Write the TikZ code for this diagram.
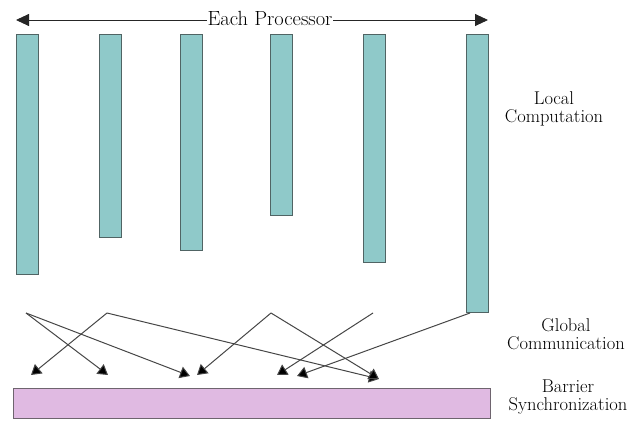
\documentclass[tikz,border=0pt]{standalone}
\usetikzlibrary{arrows.meta,calc}
\definecolor{barfill}{RGB}{143,201,201}
\definecolor{barline}{RGB}{80,100,100}
\definecolor{syncfill}{RGB}{224,186,226}
\definecolor{syncline}{RGB}{110,100,110}
\definecolor{arrline}{RGB}{70,70,70}
\begin{document}
\begin{tikzpicture}[x=1pt,y=-1pt,
  bar/.style={draw=barline,fill=barfill,line width=1pt,minimum width=22pt,inner sep=0pt,anchor=north},
  syncbox/.style={draw=syncline,fill=syncfill,line width=1pt,minimum width=477pt,minimum height=30pt,inner sep=0pt},
  lbl/.style={font=\fontsize{18.5}{18}\selectfont,align=center,inner sep=0pt},
  comm/.style={draw=arrline,line width=1pt,-{Triangle[length=10pt,width=12pt,fill=black]}},
  toparrow/.style={draw=black!85,line width=0.9pt,{Triangle[length=13pt,width=12pt]}-{Triangle[length=13pt,width=12pt]}}
]
\useasboundingbox (0,0) rectangle (638,423);
% top arrow
\coordinate (pl) at (16,20);
\coordinate (pr) at (488,20);
\draw[toparrow] (pl) -- (pr);
\node[fill=white,inner sep=0.5pt,font=\fontsize{20.5}{20}\selectfont] (ep) at (270,18.5) {Each Processor};
% processors
\node[bar,minimum height=240pt] (bar1) at (27.5,34) {};
\node[bar,minimum height=203pt] (bar2) at (110,34) {};
\node[bar,minimum height=216pt] (bar3) at (191,34) {};
\node[bar,minimum height=181pt] (bar4) at (281.5,34) {};
\node[bar,minimum height=228pt] (bar5) at (374,34) {};
\node[bar,minimum height=278pt] (bar6) at (477,34) {};
% barrier
\node[syncbox] (sync) at (251.5,403) {};
% communication
\coordinate (sA) at (26,313);
\coordinate (sB) at (107,313);
\coordinate (sC) at (271,313);
\coordinate (sD) at (373,313);
\coordinate (sE) at ($(bar6.south)+(-7,0)$);
\coordinate (t1) at (31,375);
\coordinate (t2) at (108,375);
\coordinate (t3) at (190,376);
\coordinate (t4) at (197,375);
\coordinate (t5) at (277,375);
\coordinate (t6) at (297,376);
\coordinate (t7) at (379,379);
\draw[comm] (sA) -- (t2);
\draw[comm] (sA) -- (t3);
\draw[comm] (sB) -- (t1);
\draw[comm] (sB) -- (t7);
\draw[comm] (sC) -- (t4);
\draw[comm] (sC) -- (t7);
\draw[comm] (sD) -- (t5);
\draw[comm] (sE) -- (t6);
% labels
\node[lbl] (lc) at (554,109) {Local\\Computation};
\node[lbl] (gc) at (566,334) {Global\\Communication};
\node[lbl] (bs) at (568,397) {Barrier\\Synchronization};
\end{tikzpicture}
\end{document}
